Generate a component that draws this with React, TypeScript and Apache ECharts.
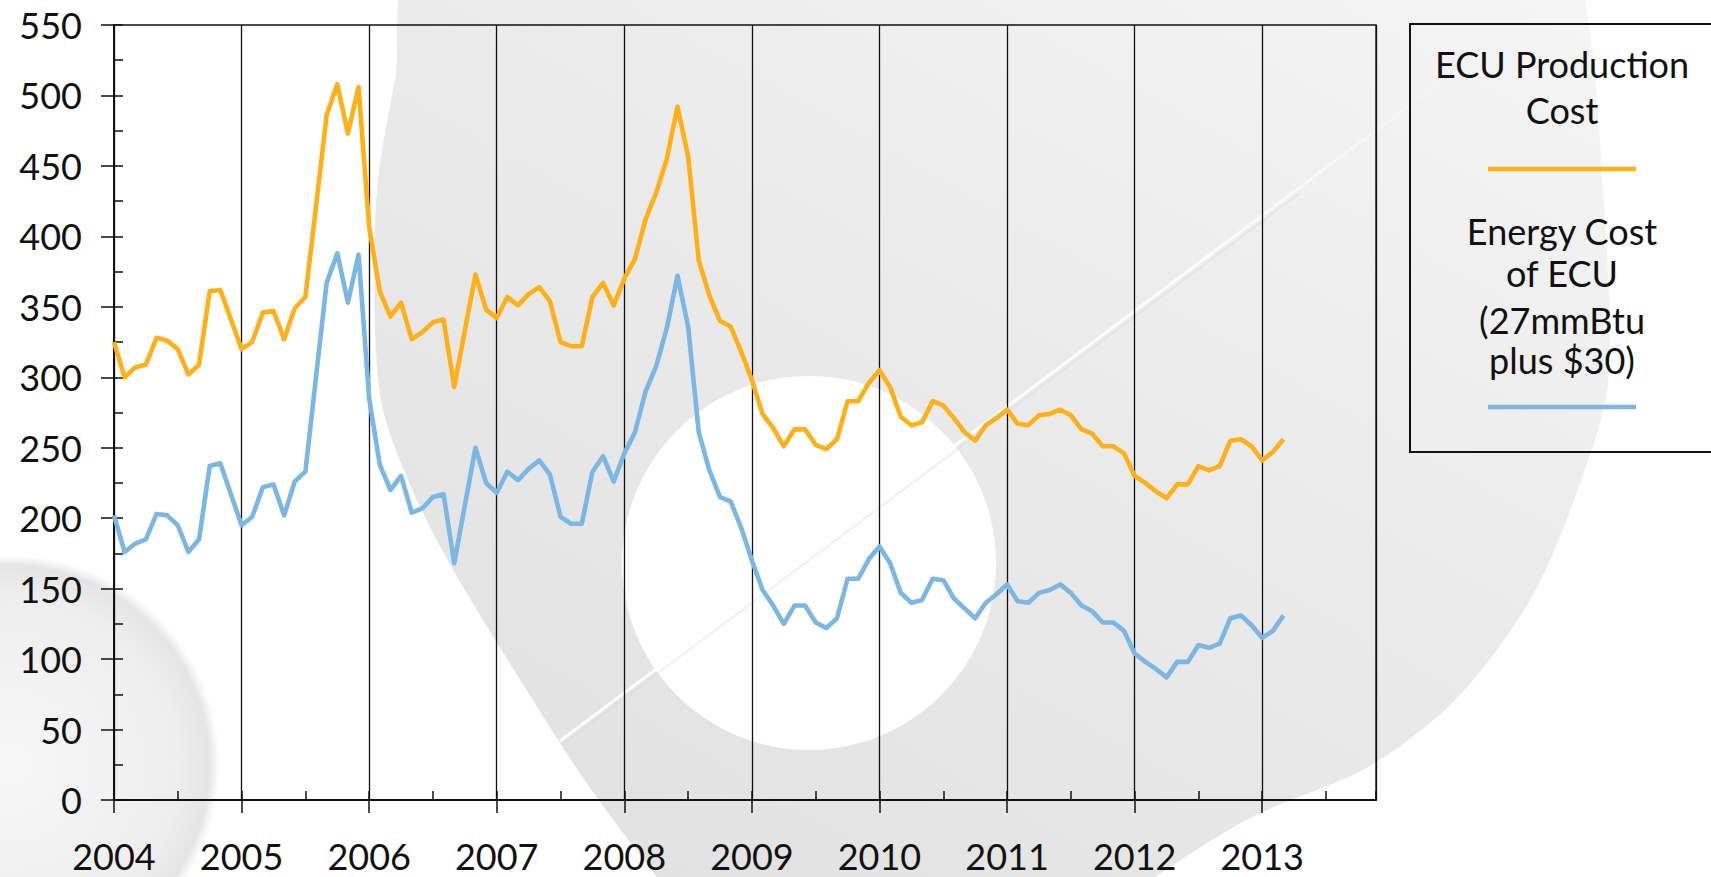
import React, { useEffect, useRef } from 'react';
import * as echarts from 'echarts';

// ---- data (monthly, Jan 2004 .. Mar 2013) ----
const yearLabels = ['2004', '2005', '2006', '2007', '2008', '2009', '2010', '2011', '2012', '2013'];

const productionCost = [
  325, 300, 307, 309, 328, 326, 320, 302, 309, 361, 362, 341,
  320, 325, 346, 347, 327, 349, 357, 421, 486, 508, 473, 506,
  407, 361, 343, 353, 327, 332, 339, 341, 293, 333, 373, 348,
  342, 357, 351, 359, 364, 354, 325, 322, 322, 357, 367, 351,
  370, 384, 412, 431, 455, 492, 457, 383, 358, 340, 336, 318,
  298, 274, 264, 251, 263, 263, 252, 249, 256, 283, 283, 296,
  305, 293, 272, 266, 268, 283, 280, 271, 261, 255, 266, 271,
  277, 267, 266, 273, 274, 277, 273, 263, 260, 251, 251, 246,
  230, 225, 219, 214, 224, 224, 237, 234, 237, 255, 256, 251,
  241, 247, 256,
];

const energyCost = [
  202, 176, 182, 185, 203, 202, 195, 176, 185, 237, 239, 217,
  195, 201, 222, 224, 202, 226, 233, 300, 367, 388, 353, 387,
  285, 238, 220, 230, 204, 207, 215, 217, 168, 209, 250, 225,
  218, 233, 227, 235, 241, 231, 201, 196, 196, 233, 244, 226,
  246, 261, 290, 308, 335, 372, 336, 261, 234, 215, 212, 193,
  170, 149, 138, 125, 138, 138, 126, 122, 129, 157, 157, 171,
  180, 168, 147, 140, 142, 157, 156, 143, 136, 129, 140, 146,
  153, 141, 140, 147, 149, 153, 147, 138, 134, 126, 126, 120,
  104, 98, 93, 87, 98, 98, 110, 108, 111, 129, 131, 124,
  115, 120, 131,
];

const seriesNames = ['ECU Production Cost', 'Energy Cost of ECU (27mmBtu plus $30)'];
const legendLines = [
  ['ECU Production', 'Cost'],
  ['Energy Cost', 'of ECU', '(27mmBtu', 'plus $30)'],
];

const ORANGE = '#FFB017';
const BLUE = '#7AB7E4';
const INK = '#111111';
const FONT = 'Lato, "DejaVu Sans", sans-serif';

export default function App() {
  const ref = useRef<HTMLDivElement>(null);

  useEffect(() => {
    if (!ref.current) return;
    const chart = echarts.init(ref.current, null, { renderer: 'svg' });

    const toPairs = (arr: number[]) => arr.map((v, i) => [i, v]);

    const ringFill = new echarts.graphic.LinearGradient(0.9, 0, 0.2, 1, [
      { offset: 0, color: '#f5f5f5' },
      { offset: 0.45, color: '#ebebeb' },
      { offset: 1, color: '#e1e1e1' },
    ]);
    const sphereFill = new echarts.graphic.RadialGradient(0.5, 0.5, 0.5, [
      { offset: 0, color: '#f7f7f7' },
      { offset: 0.8, color: '#eeeeee' },
      { offset: 0.95, color: '#e5e5e5' },
      { offset: 1, color: 'rgba(235,235,235,0)' },
    ]);
    const streakFill = new echarts.graphic.LinearGradient(0, 1, 1, 0, [
      { offset: 0, color: 'rgba(255,255,255,0.95)' },
      { offset: 0.7, color: 'rgba(255,255,255,0.9)' },
      { offset: 1, color: 'rgba(255,255,255,0)' },
    ]);

    const txt = (text: string, y: number) => ({
      type: 'text',
      z: 100,
      silent: true,
      style: {
        text,
        x: 1562,
        y,
        align: 'center',
        textAlign: 'center',
        verticalAlign: 'middle',
        textVerticalAlign: 'middle',
        fontSize: 36,
        fontFamily: FONT,
        fill: INK,
      },
    });

    const option: any = {
      animation: false,
      backgroundColor: '#ffffff',
      textStyle: { fontFamily: FONT },
      graphic: [
        {
          type: 'polygon',
          z: -100,
          silent: true,
          shape: {
            points: [
              [420, -40], [1560, -40], [1585, 0], [1603, 191], [1608, 383],
              [1575, 497], [1530, 600], [1455, 700], [1368, 767], [1252, 817],
              [1150, 880], [1080, 930], [700, 930], [657, 877], [586, 782],
              [514, 670], [447, 559], [408, 480], [381, 400], [374, 280],
              [378, 180], [395, 80],
            ],
            smooth: 0.3,
          },
          style: { fill: ringFill },
        },
        {
          type: 'circle',
          z: -99,
          silent: true,
          shape: { cx: 809, cy: 563, r: 187 },
          style: { fill: '#ffffff' },
        },
        {
          type: 'circle',
          z: -99,
          silent: true,
          shape: { cx: 10, cy: 765, r: 210 },
          style: { fill: sphereFill },
        },
        {
          type: 'line',
          z: -98,
          silent: true,
          shape: { x1: 562, y1: 745, x2: 1300, y2: 193 },
          style: { stroke: 'rgba(215,215,215,0.45)', lineWidth: 1.5 },
        },
        {
          type: 'line',
          z: -98,
          silent: true,
          shape: { x1: 560, y1: 741, x2: 1470, y2: 60 },
          style: { stroke: streakFill, lineWidth: 3 },
        },
        {
          type: 'rect',
          z: 100,
          silent: true,
          shape: { x: 1410, y: 24, width: 340, height: 428 },
          style: { fill: 'none', stroke: INK, lineWidth: 2 },
        },
        txt(legendLines[0][0], 64),
        txt(legendLines[0][1], 110),
        {
          type: 'line',
          z: 100,
          silent: true,
          shape: { x1: 1488, y1: 169, x2: 1636, y2: 169 },
          style: { stroke: ORANGE, lineWidth: 4.5 },
        },
        txt(legendLines[1][0], 231),
        txt(legendLines[1][1], 273),
        txt(legendLines[1][2], 320),
        txt(legendLines[1][3], 360),
        {
          type: 'line',
          z: 100,
          silent: true,
          shape: { x1: 1488, y1: 407, x2: 1636, y2: 407 },
          style: { stroke: BLUE, lineWidth: 4.5 },
        },
      ],
      grid: {
        left: 114,
        right: 335,
        top: 25,
        bottom: 77,
        show: true,
        borderColor: INK,
        borderWidth: 1.3,
        backgroundColor: 'transparent',
        containLabel: false,
      },
      xAxis: [
        {
          type: 'value',
          position: 'bottom',
          min: 0,
          max: 118.7,
          interval: 12,
          axisLine: { show: true, onZero: false, lineStyle: { color: INK, width: 2 } },
          axisTick: { show: true, inside: false, length: 13, lineStyle: { color: INK, width: 1.5 } },
          axisLabel: {
            show: true,
            margin: 41,
            fontSize: 36,
            lineHeight: 30,
            color: INK,
            fontFamily: FONT,
            showMaxLabel: false,
            formatter: (v: number) => (v % 12 === 0 ? yearLabels[v / 12] ?? '' : ''),
          },
          splitLine: { show: true, lineStyle: { color: INK, width: 1.3 } },
        },
        {
          type: 'value',
          position: 'bottom',
          min: 0,
          max: 118.7,
          interval: 6,
          axisLine: { show: false, onZero: false },
          axisTick: { show: true, inside: true, length: 9, lineStyle: { color: INK, width: 1.5 } },
          axisLabel: { show: false },
          splitLine: { show: false },
        },
      ],
      yAxis: [
        {
          type: 'value',
          position: 'left',
          min: 0,
          max: 550,
          interval: 50,
          axisLine: { show: true, onZero: false, lineStyle: { color: INK, width: 2 } },
          axisTick: { show: true, inside: false, length: 13, lineStyle: { color: INK, width: 1.5 } },
          axisLabel: {
            show: true,
            margin: 32,
            fontSize: 36,
            color: INK,
            fontFamily: FONT,
          },
          splitLine: { show: false },
        },
        {
          type: 'value',
          position: 'left',
          min: 0,
          max: 550,
          interval: 25,
          axisLine: { show: false, onZero: false },
          axisTick: { show: true, inside: true, length: 9, lineStyle: { color: INK, width: 1.5 } },
          axisLabel: { show: false },
          splitLine: { show: false },
        },
      ],
      series: [
        {
          name: seriesNames[0],
          type: 'line',
          xAxisIndex: 0,
          yAxisIndex: 0,
          data: toPairs(productionCost),
          showSymbol: false,
          symbol: 'none',
          z: 5,
          lineStyle: { color: ORANGE, width: 4.6, join: 'round' },
          itemStyle: { color: ORANGE },
        },
        {
          name: seriesNames[1],
          type: 'line',
          xAxisIndex: 0,
          yAxisIndex: 0,
          data: toPairs(energyCost),
          showSymbol: false,
          symbol: 'none',
          z: 5,
          lineStyle: { color: BLUE, width: 4.6, join: 'round' },
          itemStyle: { color: BLUE },
        },
      ],
    };

    chart.setOption(option);
    return () => chart.dispose();
  }, []);

  return (
    <div
      ref={ref}
      style={{ position: 'fixed', left: 0, top: 0, width: 1711, height: 877, background: '#fff' }}
    />
  );
}
